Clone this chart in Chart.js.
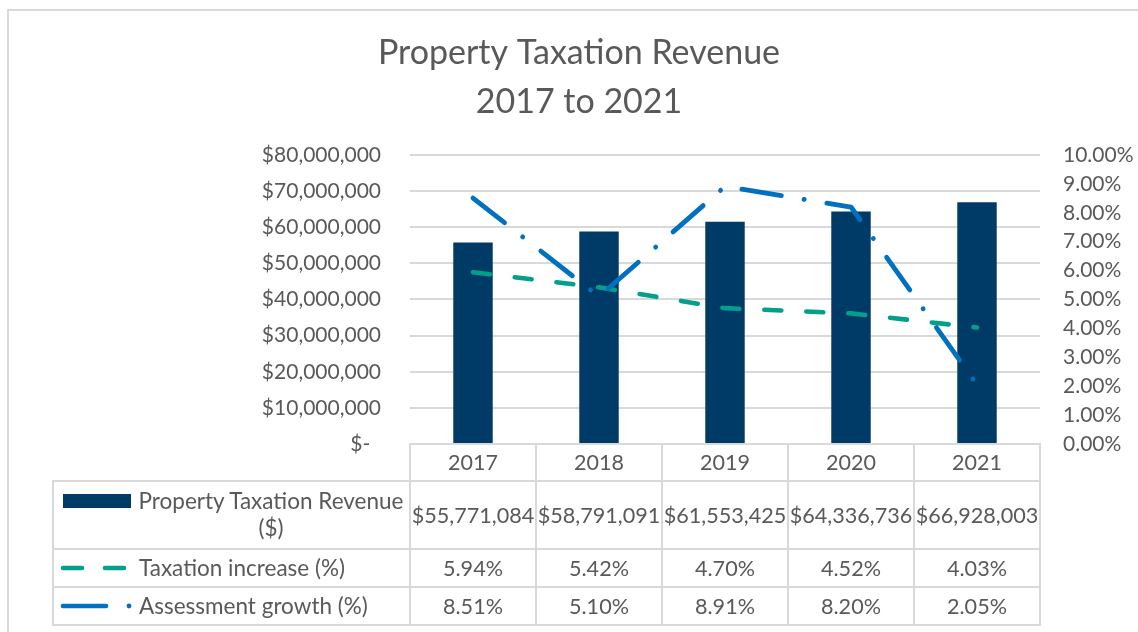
<!DOCTYPE html>
<html>
<head>
<meta charset="utf-8">
<script src="https://cdn.jsdelivr.net/npm/chart.js@4/dist/chart.umd.min.js"></script>
<style>
html,body{margin:0;padding:0;background:#fff;}
#wrap{position:relative;width:1138px;height:632px;overflow:hidden;font-family:Lato,"Open Sans",sans-serif;color:#595959;background:#fff;}
#frame{position:absolute;left:7px;top:9px;width:1200px;height:700px;border:2px solid #d9d9d9;box-sizing:border-box;}
#c{position:absolute;left:0;top:0;}
.cell{position:absolute;box-sizing:border-box;border:2px solid #d9d9d9;display:flex;align-items:center;justify-content:center;font-size:21.6px;white-space:nowrap;}
.lbl{position:absolute;font-size:22.5px;white-space:nowrap;line-height:25px;}
</style>
</head>
<body>
<div id="wrap">
  <div id="frame"></div>
  <canvas id="c" width="1138" height="632"></canvas>
  <div id="table"></div>
</div>
<script>
const categories = ['2017', '2018', '2019', '2020', '2021'];
const revenue = [55771084, 58791091, 61553425, 64336736, 66928003];
const taxIncrease = [5.94, 5.42, 4.70, 4.52, 4.03];
const assessGrowth = [8.51, 5.10, 8.91, 8.20, 2.05];
const seriesNames = ['Property Taxation Revenue ($)', 'Taxation increase (%)', 'Assessment growth (%)'];
const titleLines = ['Property Taxation Revenue', '2017 to 2021'];

const TEXT = '#595959';
const GRID = '#d9d9d9';
const NAVY = '#003A66';
const TEAL = '#00A08A';
const BLUE = '#0070C0';
const FONT = 'Lato';

const fmtMoney = v => '$' + Number(v).toLocaleString('en-US');
const fmtPct = v => Number(v).toFixed(2) + '%';

const ctx = document.getElementById('c').getContext('2d');
const chart = new Chart(ctx, {
  data: {
    labels: categories,
    datasets: [
      { type: 'bar', label: seriesNames[0], data: revenue, yAxisID: 'y', backgroundColor: NAVY,
        barPercentage: 0.313, categoryPercentage: 1, order: 2 },
      { type: 'line', label: seriesNames[1], data: taxIncrease, yAxisID: 'y1', borderColor: TEAL,
        borderWidth: 4.6, borderDash: [17, 25], borderCapStyle: 'round', borderJoinStyle: 'round',
        pointRadius: 0, tension: 0, fill: false, order: 1 },
      { type: 'line', label: seriesNames[2], data: assessGrowth, yAxisID: 'y1', borderColor: BLUE,
        borderWidth: 4.8, borderDash: [40, 23, 0.1, 23], borderCapStyle: 'round', borderJoinStyle: 'round',
        pointRadius: 0, tension: 0, fill: false, order: 0 }
    ]
  },
  options: {
    responsive: false,
    animation: false,
    events: [],
    layout: { padding: { left: 20, right: 0, top: 0, bottom: 151 } },
    plugins: {
      legend: { display: false },
      tooltip: { enabled: false },
      title: {
        display: true, text: titleLines, color: TEXT,
        font: { family: FONT, size: 34, weight: 'normal', lineHeight: 1.441 },
        padding: { top: 28.5, bottom: 28.5 }
      }
    },
    scales: {
      x: {
        grid: { offset: true, drawOnChartArea: false, drawTicks: true, tickLength: 37, color: GRID, lineWidth: 2 },
        border: { display: true, color: GRID, width: 2 },
        ticks: { color: TEXT, font: { family: FONT, size: 21.5 }, padding: -31 },
        afterFit: s => { s.height = 37; }
      },
      y: {
        position: 'left', min: 0, max: 80000000,
        ticks: { stepSize: 10000000, color: TEXT, font: { family: FONT, size: 21 }, padding: 29,
          callback: v => v === 0 ? '$-  ' : fmtMoney(v) },
        grid: { color: GRID, lineWidth: 2, drawTicks: false },
        border: { display: false },
        afterFit: s => { s.width = 390; }
      },
      y1: {
        position: 'right', min: 0, max: 10,
        ticks: { stepSize: 1, color: TEXT, font: { family: FONT, size: 21 }, padding: 23,
          callback: v => fmtPct(v) },
        grid: { display: false, drawOnChartArea: false, drawTicks: false },
        border: { display: false },
        afterFit: s => { s.width = 98; }
      }
    }
  }
});

// Data table under the plot, aligned to the category scale
(function buildTable() {
  const area = chart.chartArea;
  const xs = chart.scales.x;
  const n = categories.length;
  const half = (area.right - area.left) / n / 2;
  const bounds = [];
  for (let i = 0; i < n; i++) bounds.push(xs.getPixelForValue(i) - half);
  bounds.push(xs.getPixelForValue(n - 1) + half);
  const tableLeft = 53;
  const rowsY = [481, 549, 587, 625];
  const rows = [revenue.map(fmtMoney), taxIncrease.map(fmtPct), assessGrowth.map(fmtPct)];
  const host = document.getElementById('table');
  function cell(x0, y0, x1, y1, text) {
    const d = document.createElement('div');
    d.className = 'cell';
    d.style.left = (x0 - 1) + 'px';
    d.style.top = (y0 - 1) + 'px';
    d.style.width = (x1 - x0 + 2) + 'px';
    d.style.height = (y1 - y0 + 2) + 'px';
    if (text !== undefined) d.textContent = text;
    host.appendChild(d);
    return d;
  }
  for (let r = 0; r < 3; r++) {
    cell(tableLeft, rowsY[r], bounds[0], rowsY[r + 1]);
    for (let i = 0; i < n; i++) cell(bounds[i], rowsY[r], bounds[i + 1], rowsY[r + 1], rows[r][i]);
  }
  // legend keys
  const svgNS = 'http://www.w3.org/2000/svg';
  const svg = document.createElementNS(svgNS, 'svg');
  svg.setAttribute('width', '100'); svg.setAttribute('height', '150');
  svg.style.position = 'absolute'; svg.style.left = '40px'; svg.style.top = '480px';
  function add(tag, attrs) {
    const e = document.createElementNS(svgNS, tag);
    for (const k in attrs) e.setAttribute(k, attrs[k]);
    svg.appendChild(e);
  }
  add('rect', { x: 23, y: 14, width: 68, height: 14, fill: NAVY });
  add('line', { x1: 23, y1: 88, x2: 84, y2: 88, stroke: TEAL, 'stroke-width': 4.6, 'stroke-linecap': 'round', 'stroke-dasharray': '19 23' });
  add('line', { x1: 23, y1: 126, x2: 66, y2: 126, stroke: BLUE, 'stroke-width': 4.6, 'stroke-linecap': 'round' });
  add('circle', { cx: 89, cy: 126, r: 2.4, fill: BLUE });
  host.appendChild(svg);
  // legend texts
  function label(x, y, html, align, w) {
    const d = document.createElement('div');
    d.className = 'lbl';
    d.style.left = x + 'px'; d.style.top = y + 'px';
    if (w) { d.style.width = w + 'px'; d.style.textAlign = align; d.style.lineHeight = '27px'; }
    d.innerHTML = html;
    host.appendChild(d);
  }
  const esc = s => s.replace(/&/g, '&amp;').replace(/</g, '&lt;');
  label(130, 487, esc(seriesNames[0]).replace(' ($)', '<br>($)'), 'center', 282);
  label(139, 555, esc(seriesNames[1]));
  label(139, 593, esc(seriesNames[2]));
})();
</script>
</body>
</html>
